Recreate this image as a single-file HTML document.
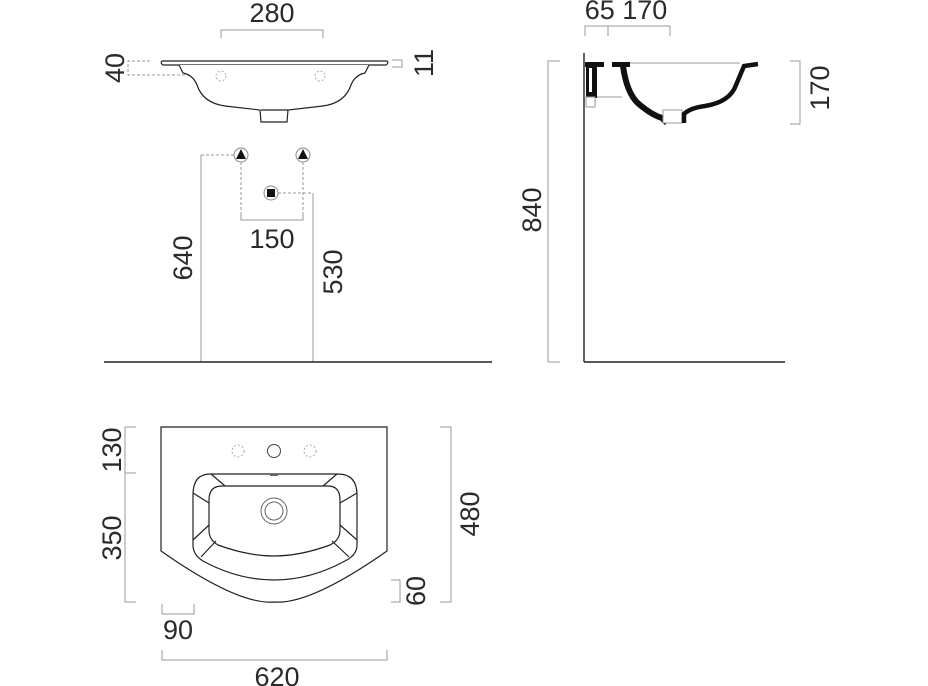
<!DOCTYPE html>
<html><head><meta charset="utf-8"><style>
html,body{margin:0;padding:0;background:#fff}
svg{display:block}
text{font-family:"Liberation Sans",sans-serif;font-size:27px;fill:#2a2a2a}
</style></head><body>
<svg width="928" height="686" viewBox="0 0 928 686" xmlns="http://www.w3.org/2000/svg">
<g fill="none" stroke="#999" stroke-width="1">
<polyline points="221,38 221,30 323,30 323,38"/>
<polyline points="150,61 128,61 128,75 216,75" stroke-dasharray="3,2"/>
<polyline points="392,60 402,60 402,67 392,67"/>
<polyline points="234,155 201,155" stroke-dasharray="3,2"/>
<line x1="201" y1="155" x2="201" y2="362"/>
<line x1="241" y1="162" x2="241" y2="220" stroke-dasharray="3,2"/>
<line x1="303" y1="162" x2="303" y2="220" stroke-dasharray="3,2"/>
<polyline points="241,215 241,220 303,220 303,215"/>
<line x1="278" y1="193" x2="313" y2="193" stroke-dasharray="3,2"/>
<line x1="313" y1="193" x2="313" y2="362"/>
<polyline points="560,61 548,61 548,362 560,362"/>
<polyline points="585,36 585,26 670,26 670,36"/>
<line x1="608" y1="26" x2="608" y2="36"/>
<polyline points="790,61 800,61 800,124 790,124"/>
<polyline points="136,427 125,427 125,602 136,602"/>
<line x1="125" y1="473" x2="136" y2="473"/>
<polyline points="440,427 451,427 451,602 440,602"/>
<polyline points="391,580 400,580 400,602 391,602"/>
<polyline points="162,604 162,614 194,614 194,604"/>
<polyline points="162,650 162,660 387,660 387,650"/>
</g>
<g stroke="#222" stroke-width="1.4" fill="none">
<line x1="104" y1="362" x2="492" y2="362"/>
<line x1="584" y1="53" x2="584" y2="362"/>
<line x1="584" y1="362" x2="785" y2="362"/>
</g>
<g stroke="#222" stroke-width="1.2" fill="#fff">
<path d="M162,61 L387,61 Q389,63 386,65 L163,65 Q160,63 162,61 Z"/>
<path d="M179,65 L183,73 Q193,75 197,85 Q203,103 225,106 L260,110 L261,122 L287,122 L288,110 L323,106 Q345,103 351,85 Q355,75 365,73 L369,65" />
<line x1="261" y1="110" x2="288" y2="110"/>
</g>
<g stroke="#aaa" stroke-width="1" fill="none" stroke-dasharray="2,2">
<circle cx="221" cy="76" r="5"/><circle cx="320" cy="76" r="5"/>
</g>
<g stroke="#888" stroke-width="1" fill="#fff">
<circle cx="241" cy="155" r="7"/><circle cx="303" cy="155" r="7"/><circle cx="271" cy="193" r="7"/>
</g>
<g fill="#111">
<polygon points="241,149 246,159 236,159"/><polygon points="303,149 308,159 298,159"/>
<rect x="267" y="189" width="8" height="8"/>
</g>
<g fill="#111">
<rect x="585" y="62" width="19" height="5"/>
<rect x="612" y="62" width="18" height="5"/>
<rect x="586" y="62" width="11" height="36"/>
</g>
<rect x="589" y="68" width="3" height="24" fill="#fff"/>
<rect x="586" y="97" width="9" height="10" fill="#fff" stroke="#999"/>
<line x1="597" y1="97" x2="622" y2="97" stroke="#999"/>
<line x1="630" y1="63" x2="740" y2="63" stroke="#999"/>
<path d="M623,66 Q627,95 640,105 Q652,115 662,118 L667,123" fill="none" stroke="#111" stroke-width="6"/>
<path d="M629,70 Q633,93 645,102 Q656,110 664,113" fill="none" stroke="#fff" stroke-width="1.3"/>
<rect x="663" y="110" width="19" height="13" fill="#fff" stroke="#999"/>
<path d="M684,123 L684,114 Q690,108 705,106 Q730,102 736,85 L744,66 L758,64" fill="none" stroke="#111" stroke-width="4.5"/>
<g stroke="#222" stroke-width="1.2" fill="none">
<path d="M161,427 L387,427 L387,551 Q310,605 274,602 Q238,605 161,551 Z"/>
<path d="M210,474 L338,474 Q357,474 357,495 L357,545 Q357,555 345,561 Q310,580 274,580 Q238,580 203,561 Q193,555 193,545 L193,495 Q193,474 210,474 Z"/>
<path d="M222,486 L328,486 Q340,486 340,500 L340,530 Q340,540 330,545 Q300,556 274,556 Q248,556 218,545 Q209,540 209,530 L209,500 Q209,486 222,486 Z"/>
<line x1="211" y1="474" x2="225" y2="486"/><line x1="337" y1="474" x2="323" y2="486"/>
<line x1="193" y1="493" x2="209" y2="503"/><line x1="357" y1="493" x2="340" y2="503"/>
<line x1="193" y1="540" x2="209" y2="525"/><line x1="357" y1="540" x2="340" y2="525"/>
<line x1="201" y1="557" x2="216" y2="541"/><line x1="349" y1="557" x2="332" y2="541"/>
</g>
<g stroke="#666" stroke-width="1" fill="none">
<circle cx="274" cy="511" r="13"/><circle cx="274" cy="511" r="9"/>
<circle cx="274" cy="451" r="6.5" stroke="#444"/>
<line x1="270" y1="475" x2="278" y2="475" stroke-width="2"/>
</g>
<g stroke="#aaa" stroke-width="1" fill="none" stroke-dasharray="2,2">
<circle cx="238" cy="451" r="6"/><circle cx="310" cy="451" r="6"/>
</g>
<text x="272" y="22" text-anchor="middle">280</text>
<text transform="translate(124,68) rotate(-90)" text-anchor="middle">40</text>
<text transform="translate(433,63) rotate(-90)" text-anchor="middle">11</text>
<text x="272" y="248" text-anchor="middle">150</text>
<text transform="translate(192,258) rotate(-90)" text-anchor="middle">640</text>
<text transform="translate(342,272) rotate(-90)" text-anchor="middle">530</text>
<text x="626" y="19" text-anchor="middle">65 170</text>
<text transform="translate(541,210) rotate(-90)" text-anchor="middle">840</text>
<text transform="translate(829,88) rotate(-90)" text-anchor="middle">170</text>
<text transform="translate(121,450) rotate(-90)" text-anchor="middle">130</text>
<text transform="translate(121,538) rotate(-90)" text-anchor="middle">350</text>
<text transform="translate(479,514) rotate(-90)" text-anchor="middle">480</text>
<text transform="translate(425,591) rotate(-90)" text-anchor="middle">60</text>
<text x="178" y="639" text-anchor="middle">90</text>
<text x="277" y="686" text-anchor="middle">620</text>
</svg>
</body></html>
